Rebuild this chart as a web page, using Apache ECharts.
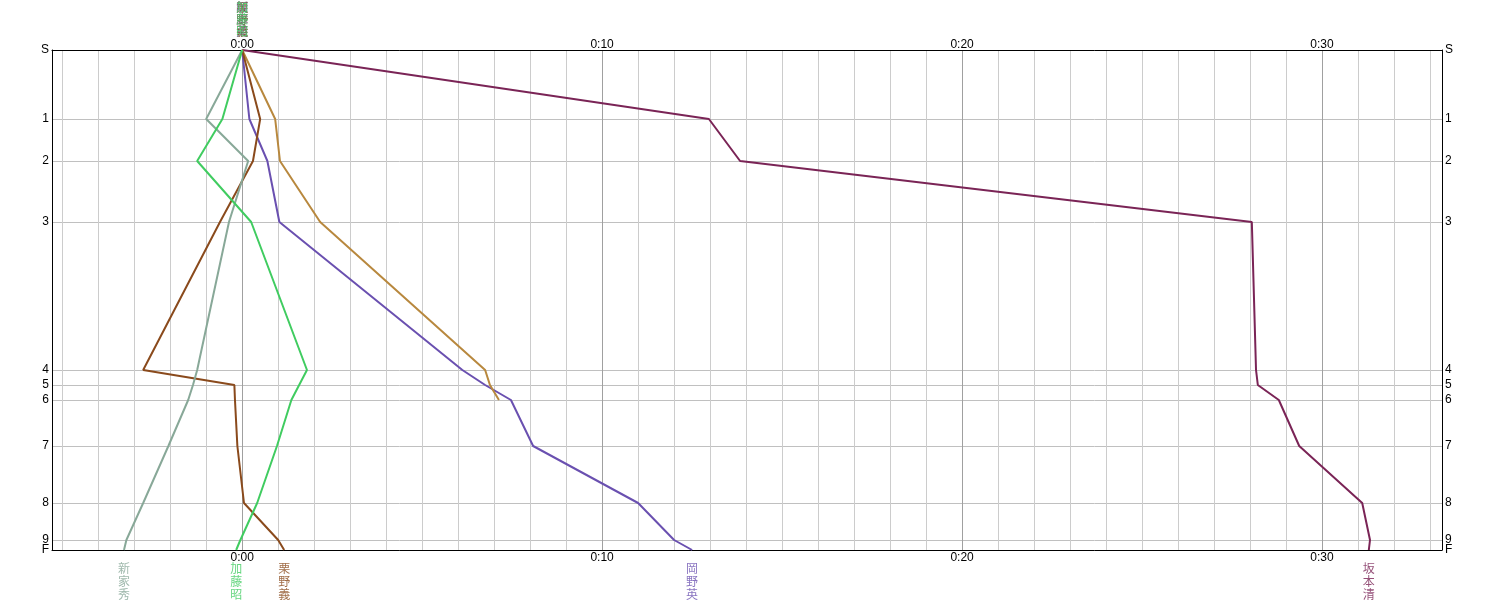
<!DOCTYPE html>
<html><head><meta charset="utf-8">
<script src="https://cdn.jsdelivr.net/npm/echarts@6/dist/echarts.min.js"></script>
<style>html,body{margin:0;padding:0;background:#fff}#c{width:1494px;height:600px}</style>
</head><body><div id="c"></div>
<script>
// control labels and their positions on the y scale (reference cumulative time)
const controlLabels = ['S','1','2','3','4','5','6','7','8','9','F'];
const controlPos = [0,69,111,172,320,335,350,396,453,490,500];
// x tick labels (seconds behind)
const xLabelValues = [0,600,1200,1800];
const xLabelTexts = ['0:00','0:10','0:20','0:30'];
// runners: time behind at each control (seconds)
const sakamoto = [0,778,830,1683,1690,1693,1728,1762,1867,1880,1878];
const okano    = [0,12,42,62,367,405,448,485,660,720,750];
const tanRunner= [0,55,63,130,405,413,428];
const kurino   = [0,30,18,-37,-165,-13,-12,-8,3,60,70];
const kato     = [0,-33,-75,15,108,95,82,58,25,-3,-10];
const shinke   = [0,-60,10,-22,-75,-82,-90,-123,-165,-193,-197];

const runners = [
  {name:'坂本清', color:'#7a2456', data:sakamoto, finished:true},
  {name:'岡野英', color:'#6a50b0', data:okano, finished:true},
  {name:'', color:'#b8883e', data:tanRunner, finished:false},
  {name:'栗野義', color:'#8a4a1c', data:kurino, finished:true},
  {name:'新家秀', color:'#88a898', data:shinke, finished:true},
  {name:'加藤昭', color:'#40cc60', data:kato, finished:true}
];

const xGridValues = [];
for (let v = -300; v <= 1980; v += 60) xGridValues.push(v);
const gridColors = [];
for (let i = 0; i < 10; i++) gridColors.push(i === 5 ? '#a0a0a0' : '#cccccc');

const font = 'Liberation Sans';
const fmtX = v => { const i = xLabelValues.indexOf(v); return i >= 0 ? xLabelTexts[i] : ''; };
const fmtY = v => { const i = controlPos.indexOf(v); return i >= 0 ? controlLabels[i] : ''; };
const vert = s => s.split('').join('\n');

// split labels into two sets so close neighbours (9 / F) are not auto-hidden
const posA = controlPos.filter((p,i) => i !== 9);
const posB = [controlPos[9]];

const series = [];
runners.forEach(r => {
  series.push({
    type:'line', name:r.name || 'x', symbol:'none', animation:false,
    lineStyle:{color:r.color, width:2}, itemStyle:{color:r.color},
    data: r.data.map((t,i) => [t, controlPos[i]]), z:3
  });
});
runners.forEach(r => {
  if (!r.name) return;
  const pts = [{value:[0,0], label:{position:'top', distance:13, lineHeight:12}}];
  if (r.finished) pts.push({value:[r.data[r.data.length-1], controlPos[controlPos.length-1]], label:{position:'bottom', distance:12, lineHeight:13}});
  series.push({
    type:'scatter', symbolSize:0, animation:false, silent:true, z:5,
    data: pts,
    label:{show:true, formatter: () => vert(r.name), color:r.color, fontSize:12, lineHeight:13, fontFamily:'Noto Sans CJK JP', align:'center'}
  });
});

const yLabel = vals => ({customValues:vals, formatter:fmtY, color:'#000', fontSize:12, fontFamily:font, margin:3, showMinLabel:true, showMaxLabel:true, hideOverlap:false});
const xLabel = {customValues:xLabelValues, formatter:fmtX, color:'#000', fontSize:12, fontFamily:font, showMinLabel:true, showMaxLabel:true};
const yAxisDef = (pos, vals, line, split) => ({
  type:'value', position:pos, inverse:true, min:0, max:500,
  axisLine:{show:line, onZero:false, lineStyle:{color:'#000', width:1}},
  axisTick:{show:false, customValues:controlPos},
  axisLabel:yLabel(vals),
  splitLine:{show:split, lineStyle:{color:'#c0c0c0', width:1}}
});

const chart = echarts.init(document.getElementById('c'), null, {renderer:'canvas'});
chart.setOption({
  animation:false,
  backgroundColor:'#fff',
  grid:{left:52, right:52, top:50, bottom:50, containLabel:false},
  xAxis:[
    {type:'value', position:'top', min:-317, max:2000,
     axisLine:{show:true, onZero:false, lineStyle:{color:'#000', width:1}},
     axisTick:{show:false, customValues:xGridValues},
     axisLabel:Object.assign({margin:-1}, xLabel),
     splitLine:{show:true, lineStyle:{color:gridColors, width:1}}},
    {type:'value', position:'bottom', min:-317, max:2000,
     axisLine:{show:true, onZero:false, lineStyle:{color:'#000', width:1}},
     axisTick:{show:false},
     axisLabel:Object.assign({margin:2}, xLabel),
     splitLine:{show:false}}
  ],
  yAxis:[
    yAxisDef('left', posA, true, true),
    yAxisDef('right', posA, true, false),
    yAxisDef('left', posB, false, false),
    yAxisDef('right', posB, false, false)
  ],
  series: series
});
</script></body></html>
